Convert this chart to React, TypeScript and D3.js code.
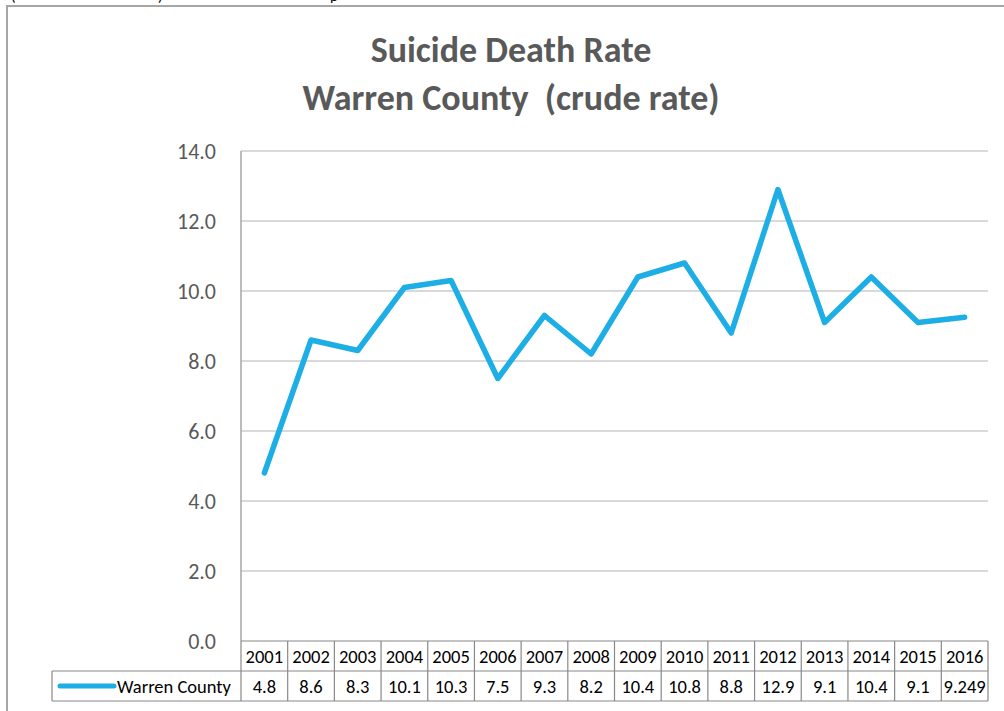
import React from 'react';
import * as d3 from 'd3';

const years = ['2001', '2002', '2003', '2004', '2005', '2006', '2007', '2008', '2009', '2010', '2011', '2012', '2013', '2014', '2015', '2016'];
const rates = [4.8, 8.6, 8.3, 10.1, 10.3, 7.5, 9.3, 8.2, 10.4, 10.8, 8.8, 12.9, 9.1, 10.4, 9.1, 9.249];
const rateLabels = ['4.8', '8.6', '8.3', '10.1', '10.3', '7.5', '9.3', '8.2', '10.4', '10.8', '8.8', '12.9', '9.1', '10.4', '9.1', '9.249'];
const yTicks = [0, 2, 4, 6, 8, 10, 12, 14];
const titleLines = ['Suicide Death Rate', 'Warren County  (crude rate)'];
const seriesName = 'Warren County';

const W = 1004;
const H = 711;
const margin = { top: 151, right: 16, bottom: 70, left: 241 };
const font = 'Calibri, Carlito, "Open Sans", sans-serif';
const lineColor = '#1eaee6';

export default function App() {
  const plotW = W - margin.left - margin.right;
  const plotH = H - margin.top - margin.bottom;
  const bottom = margin.top + plotH;
  const rowH = 30;

  const x = d3.scaleBand().domain(years).range([margin.left, margin.left + plotW]);
  const y = d3.scaleLinear().domain([0, 14]).range([bottom, margin.top]);

  const line = d3.line<number>()
    .x((d, i) => (x(years[i]) as number) + x.bandwidth() / 2)
    .y((d) => y(d));

  const legendLeft = 52;
  const gridColor = '#888';

  return (
    <svg width={W} height={H} style={{ position: 'absolute', left: 0, top: 0, background: '#fff' }}>
      {/* clipped text from above the chart */}
      <g fontFamily={font} fontSize={15} fill="#000">
        <text x={11} y={1}>(</text>
        <text x={158} y={1}>)</text>
        <text x={330} y={1}>p</text>
      </g>
      <rect x={7} y={6} width={W + 10} height={H + 10} fill="#fff" stroke="#a6a6a6" strokeWidth={2} />

      <g fontFamily={font} fontWeight="bold" fill="#595959" fontSize={36} textAnchor="middle">
        {titleLines.map((t, i) => (
          <text key={t} x={511} y={62 + i * 48} style={{ whiteSpace: 'pre' }}>{t}</text>
        ))}
      </g>

      {/* grid and y axis */}
      {yTicks.map((t) => (
        <g key={t}>
          {t > 0 && <line x1={margin.left} x2={margin.left + plotW} y1={y(t)} y2={y(t)} stroke="#d9d9d9" strokeWidth={2} />}
          <text x={216} y={y(t) + 8} textAnchor="end" fontFamily={font} fontSize={22} fill="#595959">{t.toFixed(1)}</text>
        </g>
      ))}
      <line x1={margin.left} x2={margin.left} y1={margin.top} y2={bottom} stroke="#a6a6a6" strokeWidth={1.5} />

      {/* data table */}
      <g stroke={gridColor} strokeWidth={1.2} fill="none">
        <line x1={margin.left} x2={margin.left + plotW} y1={bottom} y2={bottom} />
        <line x1={legendLeft} x2={margin.left + plotW} y1={bottom + rowH} y2={bottom + rowH} />
        <line x1={legendLeft} x2={margin.left + plotW} y1={bottom + rowH * 2} y2={bottom + rowH * 2} />
        <line x1={legendLeft} x2={legendLeft} y1={bottom + rowH} y2={bottom + rowH * 2} />
        {years.map((yr) => (
          <line key={yr} x1={x(yr)} x2={x(yr)} y1={bottom} y2={bottom + rowH * 2} />
        ))}
        <line x1={margin.left + plotW} x2={margin.left + plotW} y1={bottom} y2={bottom + rowH * 2} />
      </g>
      <g fontFamily={font} fontSize={18.5} fill="#000" textAnchor="middle">
        {years.map((yr, i) => (
          <g key={yr}>
            <text x={(x(yr) as number) + x.bandwidth() / 2} y={bottom + 22}>{yr}</text>
            <text x={(x(yr) as number) + x.bandwidth() / 2} y={bottom + rowH + 22}>{rateLabels[i]}</text>
          </g>
        ))}
      </g>
      <line x1={60} x2={114} y1={bottom + rowH * 1.5} y2={bottom + rowH * 1.5} stroke={lineColor} strokeWidth={5} strokeLinecap="round" />
      <text x={117} y={bottom + rowH + 22} fontFamily={font} fontSize={18.5} fill="#000">{seriesName}</text>

      <path d={line(rates) as string} fill="none" stroke={lineColor} strokeWidth={5.5} strokeLinejoin="round" strokeLinecap="round" />
    </svg>
  );
}
